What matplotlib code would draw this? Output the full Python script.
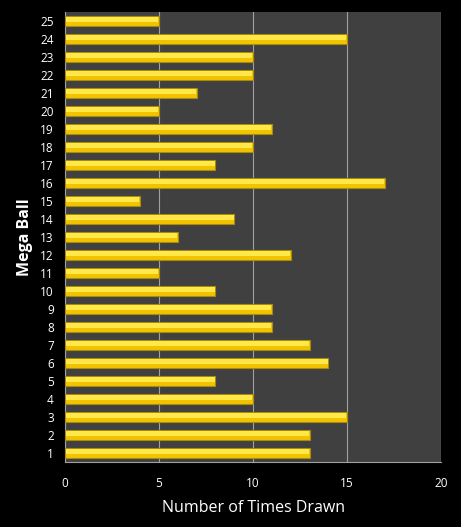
import matplotlib.pyplot as plt

# Mega Ball numbers and how often each was drawn
balls = list(range(1, 26))
times_drawn = [13, 13, 15, 10, 8, 14, 13, 11, 11, 8, 5, 12, 6, 9, 4, 17, 8, 10, 11, 5, 7, 10, 10, 15, 5]
x_ticks = [0, 5, 10, 15, 20]

plt.rcParams['font.family'] = ['Open Sans', 'DejaVu Sans']

fig = plt.figure(figsize=(4.61, 5.27), dpi=100, facecolor='black')
ax = fig.add_axes([0.141, 0.123, 0.816, 0.854])
ax.set_facecolor('#404040')

# base bar plus a lighter strip on top to fake the glossy gradient
ax.barh(balls, times_drawn, height=0.58, color='#F2C400', edgecolor='#A88A10',
        linewidth=0.8, zorder=3)
ax.barh([b + 0.1 for b in balls], [v - 0.08 for v in times_drawn], left=0.04,
        height=0.26, color='#FFE84A', linewidth=0, zorder=4)

ax.set_xlim(0, 20)
ax.set_ylim(0.5, 25.5)
ax.set_xticks(x_ticks)
ax.set_yticks(balls)
ax.xaxis.grid(True, color='#A0A0A0', linewidth=0.8, zorder=1)
ax.set_axisbelow(True)

for side in ['top', 'right']:
    ax.spines[side].set_visible(False)
for side in ['left', 'bottom']:
    ax.spines[side].set_color('#A0A0A0')

ax.tick_params(colors='white', labelsize=8.5, length=0)
ax.tick_params(axis='x', pad=11)
ax.tick_params(axis='y', pad=8)
ax.set_xlabel('Number of Times Drawn', color='white', fontsize=11.5, labelpad=7)
ax.set_ylabel('Mega Ball', color='white', fontsize=11.5, fontweight='bold', labelpad=5)

fig.savefig('out.png', dpi=100, facecolor='black')
